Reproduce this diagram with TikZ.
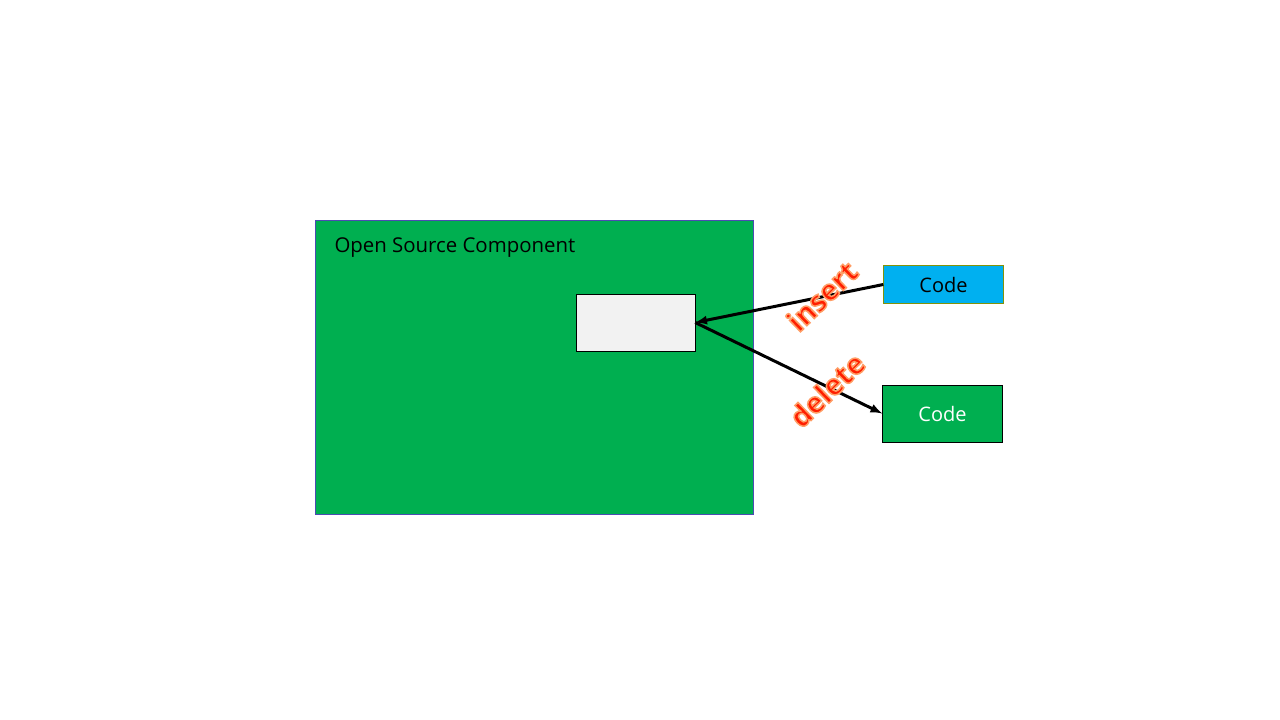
\documentclass[tikz,border=0pt]{standalone}
\usepackage{fontspec}
\setmainfont{Open Sans}
\usepackage{tikz}

\definecolor{compgreen}{HTML}{00AF50}
\definecolor{codeblue}{HTML}{00B0F0}
\definecolor{boxgrey}{HTML}{F2F2F2}
\definecolor{labelred}{HTML}{FF1E00}

% red letters with an orange rim
\newcommand\rimword[1]{\special{pdf:literal direct 1 0.62 0.4 RG 1.5 w 2 Tr}#1\special{pdf:literal direct 0 Tr}}

\tikzset{
  codebox/.style={minimum width=120pt, inner sep=0pt, font=\fontsize{20}{24}\selectfont},
  flow/.style={line width=3pt, -latex},
  rimlabel/.style={font=\bfseries\fontsize{29}{32}\selectfont, text=labelred, rotate=44}
}

\begin{document}
\begin{tikzpicture}[x=1pt,y=-1pt]
\useasboundingbox (0,0) rectangle (1280,720);
\fill[white] (0,0) rectangle (1280,720);
\draw[fill=compgreen, draw=blue!40!gray] (315,220) rectangle (753,514);
\node[anchor=base west, font=\fontsize{20.4}{24}\selectfont] (title) at (331,252) {Open Source Component};
\node[draw=black, fill=boxgrey, minimum width=119pt, minimum height=57pt, inner sep=0pt] (slot) at (635.5,322.5) {};
\node[codebox, draw=olive!80!green, fill=codeblue, minimum height=38pt] (codein) at (943.5,284.5) {Code};
\node[codebox, draw=black, fill=compgreen, minimum height=57pt, text=white] (codeout) at (942.5,413.5) {Code};
\draw[flow] (codein.west) -- (slot.east);
\draw[flow] (slot.east) -- (codeout.west);
\node[rimlabel] (ins) at (822,296) {\rimword{insert}};
\node[rimlabel] (del) at (827,390) {\rimword{delete}};
\end{tikzpicture}
\end{document}
